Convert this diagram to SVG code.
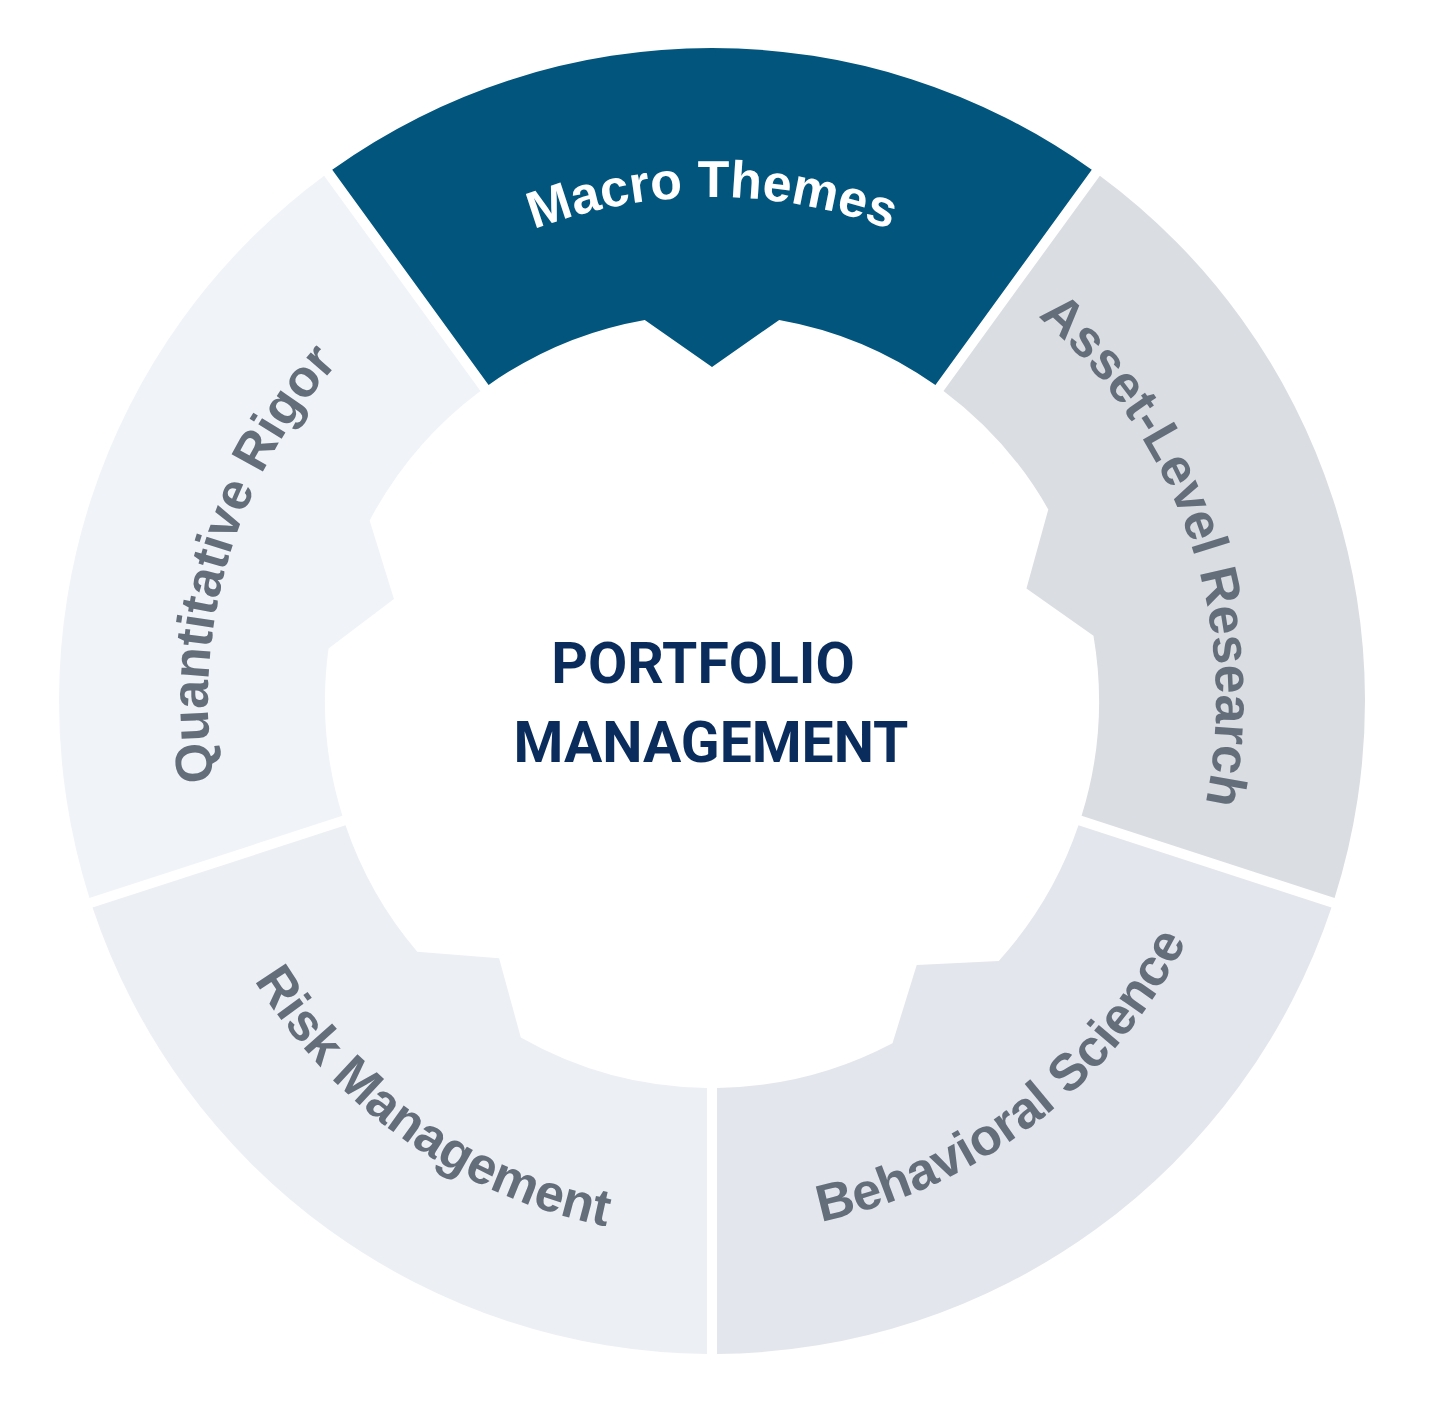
<svg xmlns="http://www.w3.org/2000/svg" width="1440" height="1415" viewBox="0 0 1440 1415">
  <style>
    .lbl { font-family: "Liberation Sans", Arial, sans-serif; font-weight: bold; font-size: 52px; }
    .lbl-dark { fill: #ffffff; }
    .lbl-light { fill: #646e7a; }
    .center { font-family: Roboto, "Liberation Sans", sans-serif; font-weight: bold; font-size: 57px; fill: #092c5c; text-anchor: middle; }
  </style>
  <defs>
    <path id="arc-macro" d="M215.66,613.48 A504,504 0 0 1 1208.34,613.48"/>
    <path id="arc-asset" d="M633.16,203.21 A504,504 0 0 1 956.34,1141.81"/>
    <path id="arc-behav" d="M352.59,1093.23 A532,532 0 0 0 1183.89,455.35"/>
    <path id="arc-risk" d="M226.22,474.48 A536,536 0 0 0 1091.01,1080.01"/>
    <path id="arc-quant" d="M487.12,1152.05 A504,504 0 0 1 769.05,200.24"/>
  </defs>
  <rect width="1440" height="1415" fill="#ffffff"/>
  <g id="macro-themes">
    <path d="M332.23,169.79 A653,653 0 0 1 1091.77,169.79 L935.41,385.00 A387,387 0 0 0 779.20,319.88 L712,367 L644.80,319.88 A387,387 0 0 0 488.59,385.00 Z" fill="#02557d"/>
    <text class="lbl lbl-dark"><textPath href="#arc-macro" startOffset="50%" text-anchor="middle">Macro Themes</textPath></text>
  </g>
  <g id="asset-level-research">
    <path d="M1099.86,175.67 A653,653 0 0 1 1334.57,898.03 L1081.57,815.82 A387,387 0 0 0 1093.47,635.80 L1026.45,588.41 L1048.27,509.39 A387,387 0 0 0 943.50,390.88 Z" fill="#dadde2"/>
    <text class="lbl lbl-light"><textPath href="#arc-asset" startOffset="50%" text-anchor="middle">Asset-Level Research</textPath></text>
  </g>
  <g id="behavioral-science">
    <path d="M1331.48,907.54 A653,653 0 0 1 717.00,1353.98 L717.00,1087.97 A387,387 0 0 0 892.49,1043.33 L916.71,964.91 L998.69,960.96 A387,387 0 0 0 1078.48,825.33 Z" fill="#e3e6ed"/>
    <text class="lbl lbl-light"><textPath href="#arc-behav" startOffset="50%" text-anchor="middle">Behavioral Science</textPath></text>
  </g>
  <g id="risk-management">
    <path d="M707.00,1353.98 A653,653 0 0 1 92.52,907.54 L345.52,825.33 A387,387 0 0 0 417.28,951.82 L499.10,958.35 L520.84,1037.49 A387,387 0 0 0 707.00,1087.97 Z" fill="#eceff4"/>
    <text class="lbl lbl-light"><textPath href="#arc-risk" startOffset="50%" text-anchor="middle">Risk Management</textPath></text>
  </g>
  <g id="quantitative-rigor">
    <path d="M89.43,898.03 A653,653 0 0 1 324.14,175.67 L480.50,390.88 A387,387 0 0 0 369.67,520.51 L393.99,598.90 L328.58,648.48 A387,387 0 0 0 342.43,815.82 Z" fill="#f0f4f8"/>
    <text class="lbl lbl-light"><textPath href="#arc-quant" startOffset="50%" text-anchor="middle">Quantitative Rigor</textPath></text>
  </g>
  <g id="portfolio-management">
    <text class="center" x="703" y="683">PORTFOLIO</text>
    <text class="center" x="711" y="762">MANAGEMENT</text>
  </g>
  <g id="connectors"></g>
</svg>
